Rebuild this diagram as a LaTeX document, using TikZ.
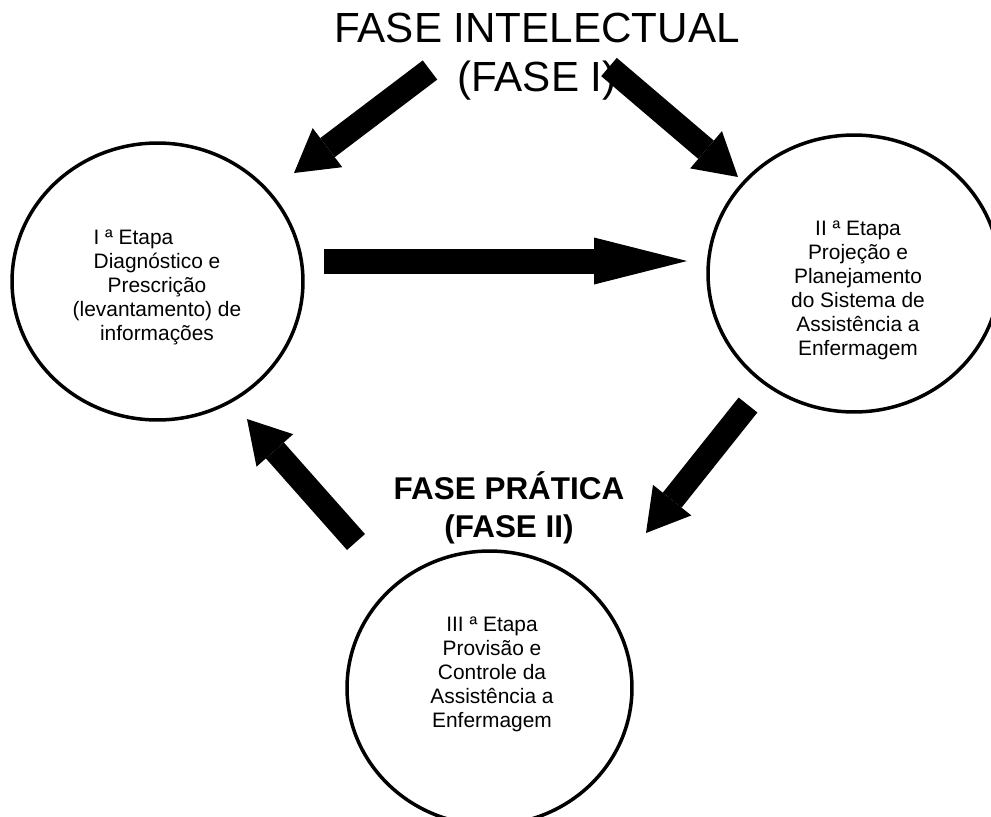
\documentclass[tikz,border=0pt]{standalone}
\usepackage{fontspec}
\setmainfont{Liberation Sans}
\usepackage{tikz}
\usetikzlibrary{shapes.geometric, arrows.meta}
\tikzset{
    etapa/.style={ellipse, draw=black, line width=0.07cm, fill=white,
                  inner sep=0pt},
    etxt/.style={align=center, inner sep=0pt,
                 font=\fontsize{11.9}{13.66}\selectfont},
    fase/.style={align=center, inner sep=0pt,
                 font=\fontsize{24}{27.9}\selectfont},
    faseb/.style={align=center, inner sep=0pt,
                  font=\bfseries\fontsize{17.9}{21.6}\selectfont},
    blk/.style={line width=0.48cm,
                -{Triangle[width=0.98cm, length=0.84cm, line width=0pt]}},
    blkh/.style={line width=0.5cm,
                 -{Triangle[width=0.94cm, length=1.86cm, line width=0pt]}}
}
\begin{document}
\begin{tikzpicture}[x=0.02cm, y=-0.02cm]
\useasboundingbox (0,0) rectangle (991,816);

% ── Etapas ────────────────────────────────────────────────────────────
\node[etapa, minimum width=5.82cm, minimum height=5.54cm] at (157.5,281.5) (et1) {};
\node[etapa, minimum width=5.84cm, minimum height=5.54cm] at (854,273.5)   (et2) {};
\node[etapa, minimum width=5.70cm, minimum height=5.48cm] at (489.5,688)   (et3) {};

\node[etxt] at (157,287) (tx1) {\makebox[2.54cm][l]{I ª Etapa}\\Diagnóstico e\\Prescrição\\(levantamento) de\\informações};
\node[etxt] at (858,290) (tx2) {II ª Etapa\\Projeção e\\Planejamento\\do Sistema de\\Assistência a\\Enfermagem};
\node[etxt] at (492,674) (tx3) {III ª Etapa\\Provisão e\\Controle da\\Assistência a\\Enfermagem};

% ── Fases ─────────────────────────────────────────────────────────────
\node[fase]  at (537,57)  (fint) {FASE INTELECTUAL\\(FASE I)};
\node[faseb] at (509,508) (fpra) {FASE PRÁTICA\\(FASE II)};

% ── Setas ─────────────────────────────────────────────────────────────
\coordinate (a1s) at (430,70);  \coordinate (a1e) at (294,173);
\coordinate (a2s) at (609,67);  \coordinate (a2e) at (738,177);
\coordinate (a3s) at (324,261); \coordinate (a3e) at (687,261);
\coordinate (a4s) at (748,405); \coordinate (a4e) at (646,533);
\coordinate (a5s) at (356,542); \coordinate (a5e) at (247,419);

\draw[blk]  (a1s) -- (a1e);
\draw[blk]  (a2s) -- (a2e);
\draw[blkh] (a3s) -- (a3e);
\draw[blk]  (a4s) -- (a4e);
\draw[blk]  (a5s) -- (a5e);
\end{tikzpicture}
\end{document}
